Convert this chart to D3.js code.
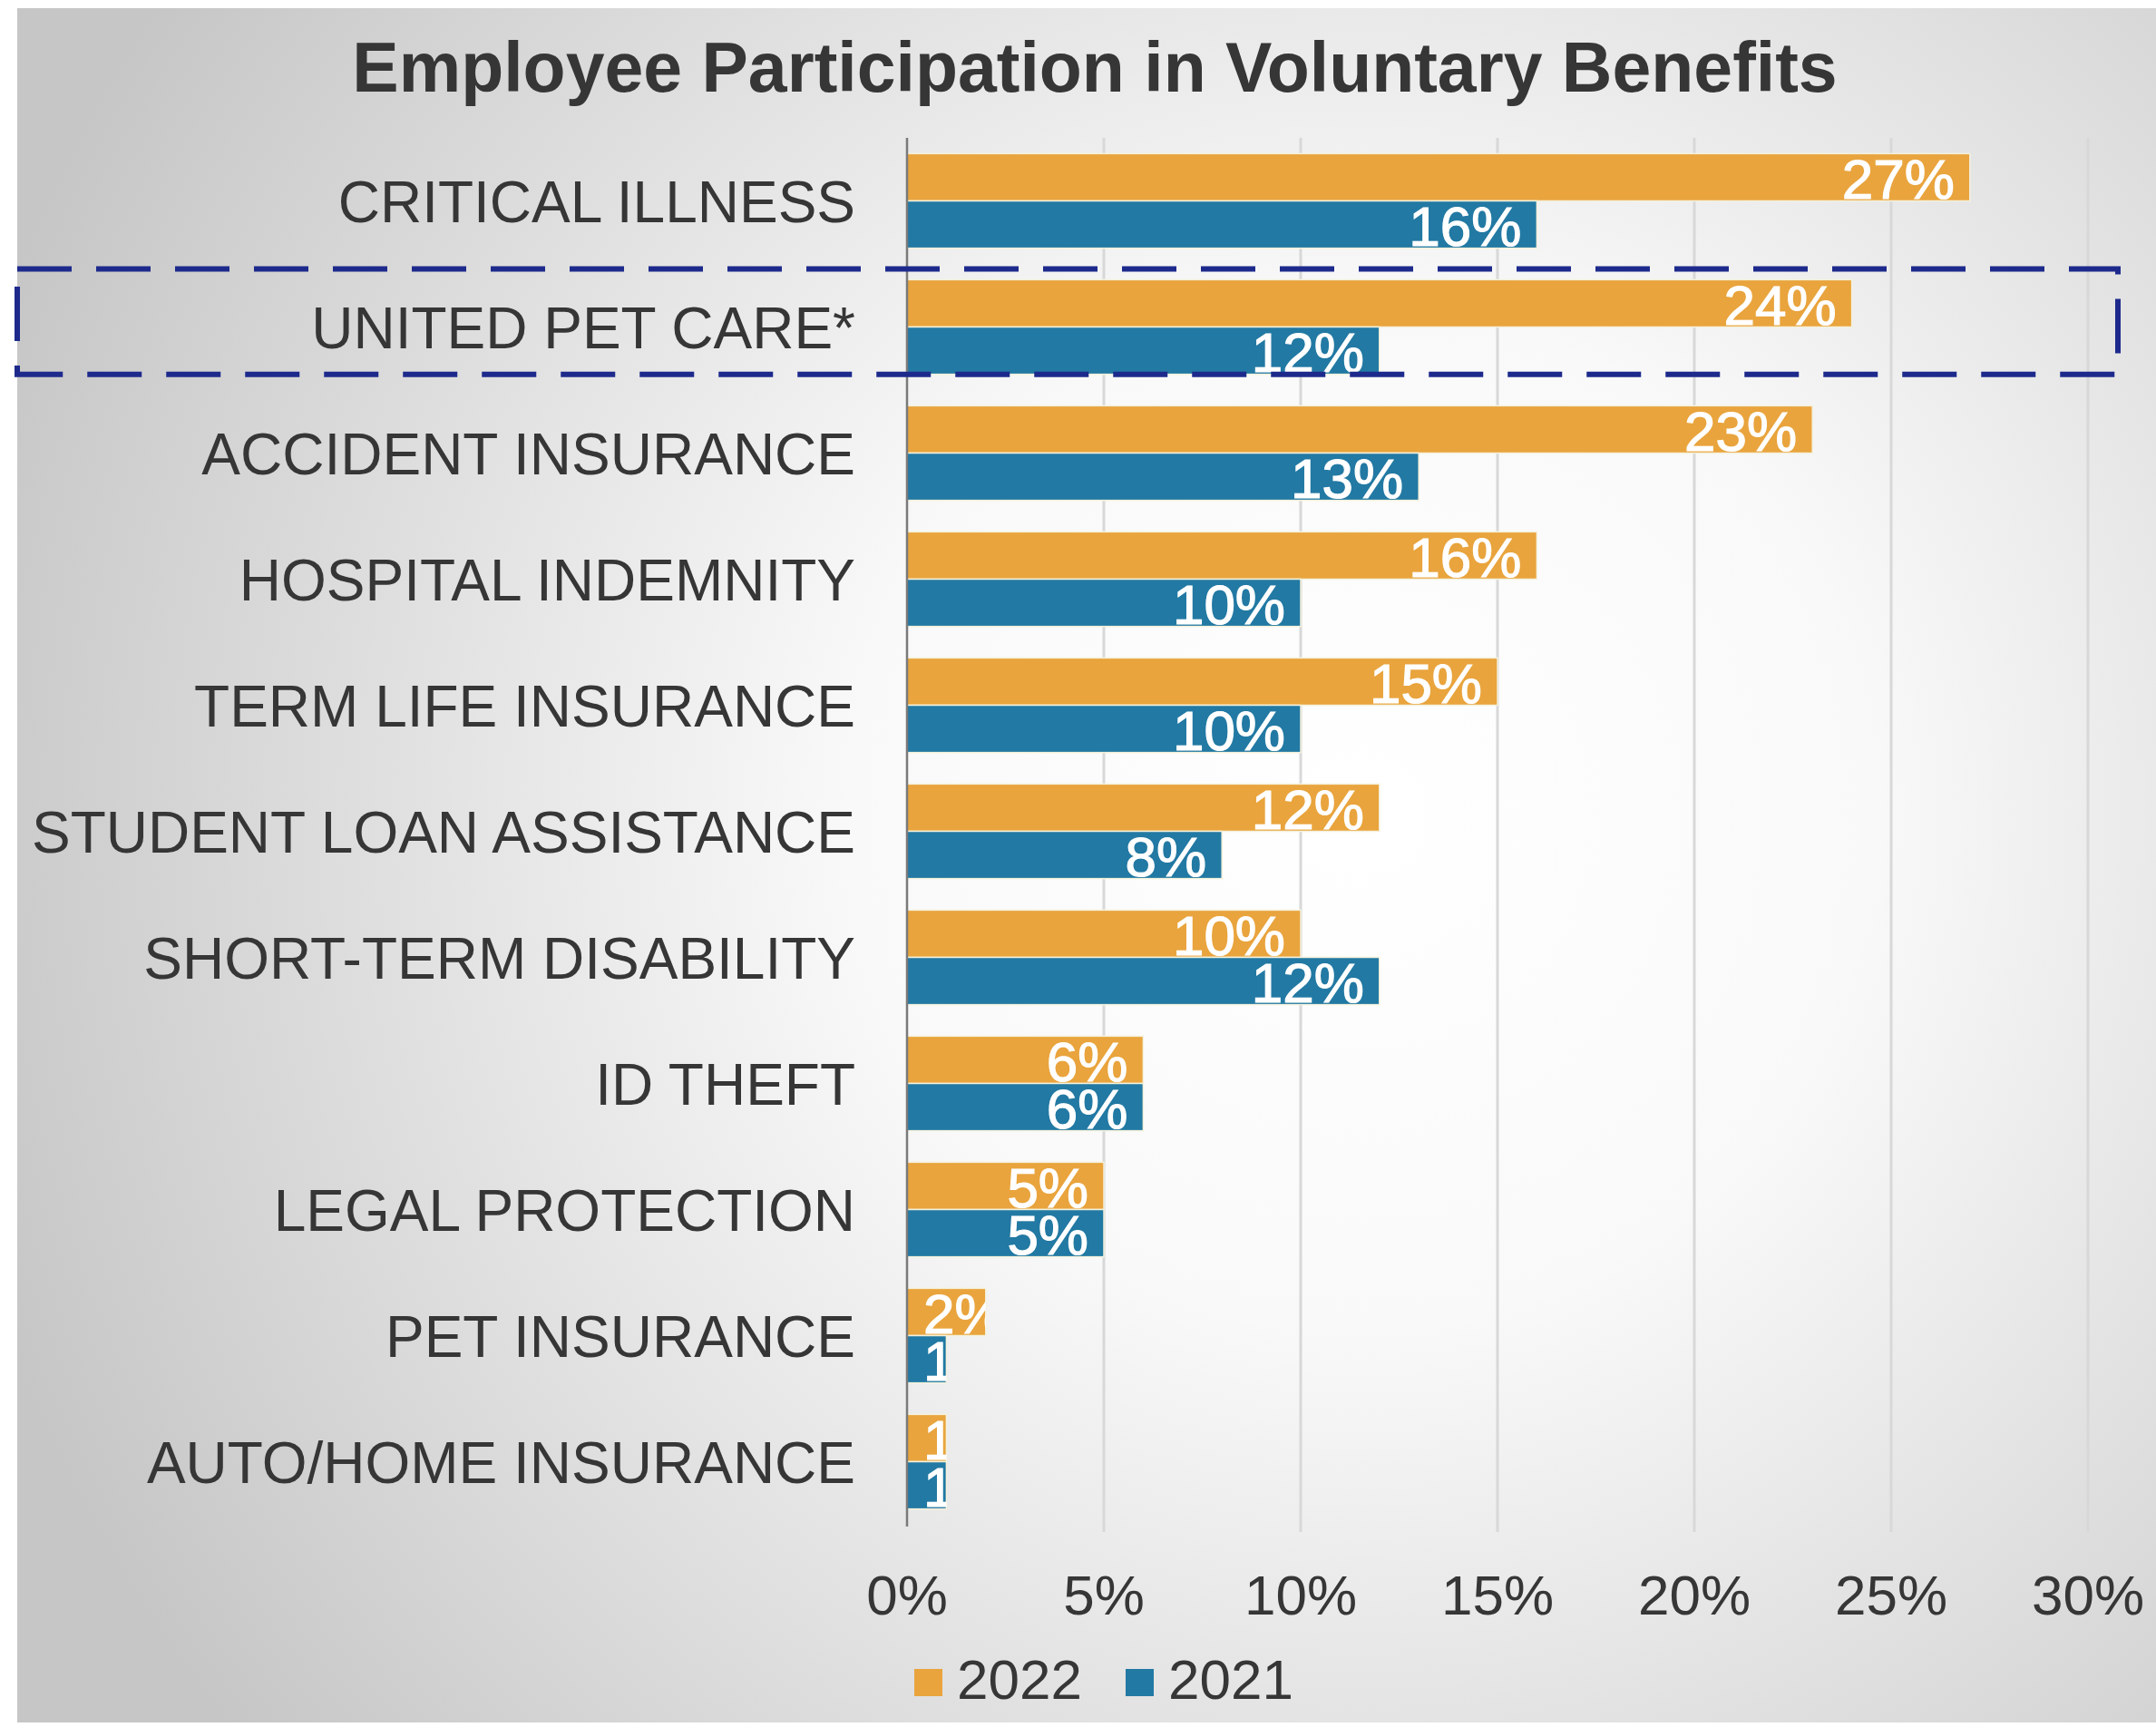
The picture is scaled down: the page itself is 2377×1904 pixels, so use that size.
<!DOCTYPE html>
<html>
<head>
<meta charset="utf-8">
<script src="https://cdn.jsdelivr.net/npm/d3@7"></script>
<style>
  html, body { margin: 0; padding: 0; background: #fff; }
  svg { display: block; font-family: "Liberation Sans", Arial, sans-serif; }
</style>
</head>
<body>
<div id="chart"></div>
<script>
const width = 2377;
const height = 1904;

// chart data
const categories = [
    "CRITICAL ILLNESS", "UNITED PET CARE*", "ACCIDENT INSURANCE", "HOSPITAL INDEMNITY",
    "TERM LIFE INSURANCE", "STUDENT LOAN ASSISTANCE", "SHORT-TERM DISABILITY",
    "ID THEFT", "LEGAL PROTECTION", "PET INSURANCE", "AUTO/HOME INSURANCE"
];
const values2022 = [27, 24, 23, 16, 15, 12, 10, 6, 5, 2, 1];
const values2021 = [16, 12, 13, 10, 10, 8, 12, 6, 5, 1, 1];
const seriesNames = ["2022", "2021"];
const xTicks = [0, 5, 10, 15, 20, 25, 30];
const highlighted = "UNITED PET CARE*";

const colors = { "2022": "#E9A43D", "2021": "#2279A3" };

const margin = { top: 152, left: 1000, right: 75, bottom: 223 };

// scales
const xScale = d3.scaleLinear()
    .domain([0, 30])
    .range([margin.left, width - margin.right]);

const yScale = d3.scaleBand()
    .domain(categories)
    .range([margin.top, height - margin.bottom])
    .paddingInner(0.25)
    .paddingOuter(0.125);

const subScale = d3.scaleBand()
    .domain(seriesNames)
    .range([0, yScale.bandwidth()]);

const svg = d3.select("#chart")
    .append("svg")
    .attr("width", width)
    .attr("height", height);

const defs = svg.append("defs");
const grad = defs.append("radialGradient")
    .attr("id", "bg")
    .attr("gradientUnits", "userSpaceOnUse")
    .attr("cx", 1500).attr("cy", 900).attr("r", 1600);
grad.append("stop").attr("offset", 0).attr("stop-color", "#ffffff");
grad.append("stop").attr("offset", 0.35).attr("stop-color", "#f9f9f9");
grad.append("stop").attr("offset", 1).attr("stop-color", "#c6c6c6");

// background panel
svg.append("rect")
    .attr("x", 19).attr("y", 9)
    .attr("width", width - 19).attr("height", height - 14)
    .attr("fill", "url(#bg)");

// title
svg.append("text")
    .attr("x", 1207)
    .attr("y", 101)
    .attr("text-anchor", "middle")
    .attr("font-size", 77)
    .attr("font-weight", "bold")
    .attr("fill", "#363636")
    .text("Employee Participation in Voluntary Benefits");

// gridlines
const plotBottom = height - margin.bottom;
svg.append("g")
    .selectAll("line")
    .data(xTicks.slice(1))
    .join("line")
    .attr("x1", d => xScale(d))
    .attr("x2", d => xScale(d))
    .attr("y1", margin.top)
    .attr("y2", plotBottom + 8)
    .attr("stroke", "#d8d8d8")
    .attr("stroke-width", 3);

// tick labels
svg.append("g")
    .selectAll("text")
    .data(xTicks)
    .join("text")
    .attr("x", d => xScale(d))
    .attr("y", 1780)
    .attr("text-anchor", "middle")
    .attr("font-size", 62)
    .attr("fill", "#363636")
    .text(d => d + "%");

// category labels
svg.append("g")
    .selectAll("text")
    .data(categories)
    .join("text")
    .attr("x", 943)
    .attr("y", d => yScale(d) + yScale.bandwidth() / 2 + 23)
    .attr("text-anchor", "end")
    .attr("font-size", 64)
    .attr("fill", "#363636")
    .text(d => d);

// bars
const rows = [];
categories.forEach((c, i) => {
    rows.push({ cat: c, series: "2022", value: values2022[i] });
    rows.push({ cat: c, series: "2021", value: values2021[i] });
});

const barG = svg.append("g");
rows.forEach((d, k) => {
    const y = yScale(d.cat) + subScale(d.series);
    const h = subScale.bandwidth();
    const x0 = xScale(0);
    const w = xScale(d.value) - x0;

    defs.append("clipPath")
        .attr("id", "clip" + k)
        .append("rect")
        .attr("x", x0).attr("y", y)
        .attr("width", w).attr("height", h);

    barG.append("rect")
        .attr("x", x0)
        .attr("y", y)
        .attr("width", w)
        .attr("height", h)
        .attr("fill", colors[d.series])
        .attr("stroke", "#f4f1dc")
        .attr("stroke-width", 1.5);

    const label = barG.append("text")
        .attr("clip-path", "url(#clip" + k + ")")
        .attr("font-size", 62)
        .attr("fill", "#ffffff")
        .attr("stroke", "#ffffff")
        .attr("stroke-width", 1.2)
        .attr("y", y + h - 3)
        .text(d.value + "%");
    const tw = label.node().getComputedTextLength();
    let tx = xScale(d.value) - 17 - tw;
    if (tx < x0 + 18) tx = x0 + 18;
    label.attr("x", tx);
});

// axis line
svg.append("line")
    .attr("x1", xScale(0)).attr("x2", xScale(0))
    .attr("y1", margin.top).attr("y2", plotBottom + 2)
    .attr("stroke", "#7a7a7a")
    .attr("stroke-width", 2.5);

// highlight box around United Pet Care
const hy = yScale(highlighted);
svg.append("rect")
    .attr("x", 19)
    .attr("y", hy - 12)
    .attr("width", 2335 - 19)
    .attr("height", yScale.bandwidth() + 12)
    .attr("fill", "none")
    .attr("stroke", "#1d2a8c")
    .attr("stroke-width", 6)
    .attr("stroke-dasharray", "60,27");

// legend
const legend = svg.append("g");
const legendX = [1008, 1241];
seriesNames.forEach((s, i) => {
    legend.append("rect")
        .attr("x", legendX[i]).attr("y", 1840)
        .attr("width", 31).attr("height", 30)
        .attr("fill", colors[s]);
    legend.append("text")
        .attr("x", legendX[i] + 47)
        .attr("y", 1873)
        .attr("font-size", 62)
        .attr("fill", "#363636")
        .text(s);
});
</script>
</body>
</html>
